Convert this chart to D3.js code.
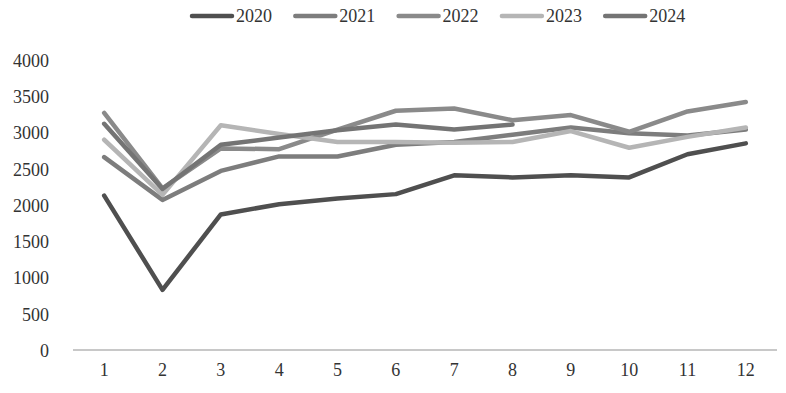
<!DOCTYPE html>
<html>
<head>
<meta charset="utf-8">
<script src="https://cdn.jsdelivr.net/npm/d3@7"></script>
<style>
  body { margin: 0; background: #fff; }
  text { font-family: "Liberation Serif", "DejaVu Serif", serif; }
</style>
</head>
<body>
<div id="chart"></div>
<script>
// 1. Data
const months = ["1", "2", "3", "4", "5", "6", "7", "8", "9", "10", "11", "12"]
const yTicks = [0, 500, 1000, 1500, 2000, 2500, 3000, 3500, 4000]
const seriesNames = ["2020", "2021", "2022", "2023", "2024"]
const values2020 = [2130, 830, 1870, 2010, 2090, 2150, 2410, 2380, 2410, 2380, 2700, 2850]
const values2021 = [2660, 2070, 2470, 2670, 2670, 2830, 2870, 2970, 3070, 2990, 2960, 3040]
const values2022 = [3270, 2230, 2780, 2770, 3040, 3300, 3330, 3170, 3240, 3010, 3290, 3420]
const values2023 = [2900, 2140, 3100, 2980, 2870, 2870, 2860, 2870, 3020, 2790, 2940, 3070]
const values2024 = [3120, 2220, 2830, 2930, 3030, 3110, 3040, 3110]
const seriesColors = ["#4f4f4f", "#7d7d7d", "#8a8a8a", "#b5b5b5", "#747474"]

const allSeries = [values2020, values2021, values2022, values2023, values2024]

// 2. Dimensions
const dimensions = {
  width: 786,
  height: 393,
  margin: { top: 60, right: 11, bottom: 43, left: 75 },
}
dimensions.boundedWidth = dimensions.width - dimensions.margin.left - dimensions.margin.right
dimensions.boundedHeight = dimensions.height - dimensions.margin.top - dimensions.margin.bottom

// 3. Canvas
const wrapper = d3.select("#chart")
  .append("svg")
    .attr("width", dimensions.width)
    .attr("height", dimensions.height)

const bounds = wrapper.append("g")
  .attr("transform", `translate(${dimensions.margin.left},${dimensions.margin.top})`)

// 4. Scales
const xScale = d3.scaleBand()
  .domain(months)
  .range([0, 700])

const yScale = d3.scaleLinear()
  .domain([0, 4000])
  .range([dimensions.boundedHeight, 0])

// 5. Axes (no domain path, labels only)
const yAxis = bounds.append("g")
  .call(d3.axisLeft(yScale).tickValues(yTicks).tickFormat(d3.format("d")).tickSize(0).tickPadding(26))
yAxis.select(".domain").remove()
yAxis.selectAll("text")
  .attr("fill", "#333")
  .style("font-size", "18px")
  .attr("dy", "0.36em")

const xAxis = bounds.append("g")
  .attr("transform", `translate(0,${dimensions.boundedHeight})`)
  .call(d3.axisBottom(xScale).tickSize(0).tickPadding(13))
xAxis.select(".domain")
  .attr("stroke", "#c8c8c8")
  .attr("stroke-width", 2)
  .attr("d", `M-2,0H702`)
xAxis.selectAll("text")
  .attr("fill", "#333")
  .style("font-size", "18px")

// 6. Lines
const lineGenerator = d3.line()
  .x((d, i) => xScale(months[i]) + xScale.bandwidth() / 2)
  .y(d => yScale(d))

bounds.selectAll(".series")
  .data(allSeries)
  .join("path")
    .attr("class", "series")
    .attr("d", lineGenerator)
    .attr("fill", "none")
    .attr("stroke", (d, i) => seriesColors[i])
    .attr("stroke-width", 4.5)
    .attr("stroke-linejoin", "round")
    .attr("stroke-linecap", "round")

// 7. Legend
const legend = wrapper.append("g")
  .attr("transform", "translate(190,16)")

const legendItems = legend.selectAll("g")
  .data(seriesNames)
  .join("g")
    .attr("transform", (d, i) => `translate(${i * 103.3},0)`)

legendItems.append("line")
  .attr("x1", 2).attr("x2", 42)
  .attr("stroke", (d, i) => seriesColors[i])
  .attr("stroke-width", 4.5)
  .attr("stroke-linecap", "round")

legendItems.append("text")
  .attr("x", 46)
  .attr("dy", "0.36em")
  .attr("fill", "#333")
  .style("font-size", "18px")
  .text(d => d)
</script>
</body>
</html>
